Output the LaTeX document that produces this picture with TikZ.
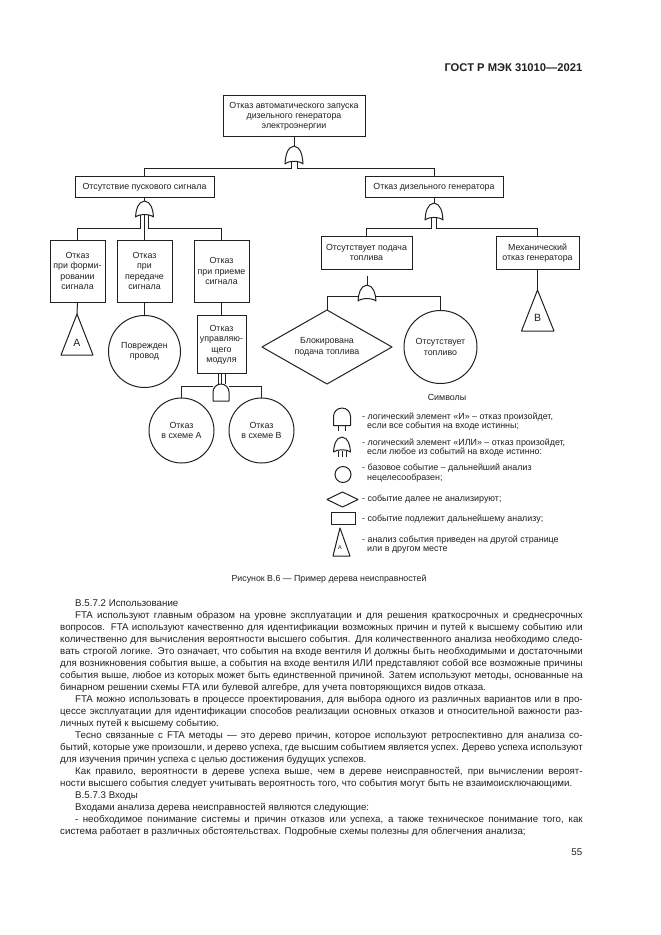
\documentclass[tikz,border=0pt]{standalone}
\usepackage{fontspec}
\setmainfont{Liberation Sans}
\usetikzlibrary{calc}
\definecolor{ink}{gray}{0.13}
\tikzset{
  x=1pt,y=-1pt,
  conn/.style={draw=ink,line width=1pt},
  evbox/.style={draw=ink,line width=1pt,fill=white,align=center,inner sep=0pt,text=ink,font=\boxfont,text depth=0pt},
  evcirc/.style={draw=ink,line width=1pt,fill=white,align=center,inner sep=0pt,circle,text=ink,font=\boxfont},
  gateshape/.style={draw=ink,line width=1pt,fill=white,line join=round},
  lbl/.style={inner sep=0pt,anchor=base west,text=ink,font=\legfont},
  bodyline/.style={inner sep=0pt,anchor=base west,text=ink,font=\bodyfont},
}
\newcommand{\boxfont}{\fontsize{8.84}{10.4}\selectfont}
\newcommand{\legfont}{\fontsize{8.9}{10}\selectfont}
\newcommand{\bodyfont}{\fontsize{9.74}{12}\selectfont}
% OR gate: centre x, top y, half width, bottom y
\newcommand{\orgate}[4]{%
  \draw[gateshape] (#1,#2) .. controls ({#1+0.75*#3},{#2+0.05*(#4-#2)}) and ({#1+0.95*#3},{#2+0.55*(#4-#2)}) .. ({#1+#3},#4)
   .. controls ({#1+0.6*#3},{#4-0.2*(#4-#2)}) and ({#1-0.6*#3},{#4-0.2*(#4-#2)}) .. ({#1-#3},#4)
   .. controls ({#1-0.95*#3},{#2+0.55*(#4-#2)}) and ({#1-0.75*#3},{#2+0.05*(#4-#2)}) .. cycle;}
% AND gate: centre x, top y, half width, bottom y
\newcommand{\andgate}[4]{%
  \draw[gateshape] ({#1-#3},#4) -- ({#1-#3},{#2+#3})
   .. controls ({#1-#3},{#2+0.45*#3}) and ({#1-0.55*#3},#2) .. (#1,#2)
   .. controls ({#1+0.55*#3},#2) and ({#1+#3},{#2+0.45*#3}) .. ({#1+#3},{#2+#3})
   -- ({#1+#3},#4) -- cycle;}
\newcommand{\jl}[3]{\node[bodyline] (#1) at (60,#2) {\spaceskip=0.278em plus 1em minus 0.2em\makebox[522.5pt][s]{#3}};}
\newcommand{\il}[3]{\node[bodyline] (#1) at (75,#2) {\spaceskip=0.278em plus 1em minus 0.2em\makebox[507.5pt][s]{#3}};}
\newcommand{\pl}[4]{\node[bodyline] (#1) at (#2,#3) {#4};}
\begin{document}
\begin{tikzpicture}
\useasboundingbox (0,0) rectangle (661,935);
\fill[white] (0,0) rectangle (661,935);
% header
\node[inner sep=0pt,anchor=base east,text=ink,font=\fontsize{11.2}{12}\selectfont\bfseries] (hdr) at (582.5,71) {ГОСТ Р МЭК 31010—2021};
% event boxes
\node[evbox,minimum width=142pt,minimum height=41pt] (top) at (294,115.5) {Отказ автоматического запуска\\дизельного генератора\\электроэнергии};
\node[evbox,minimum width=139pt,minimum height=21pt] (noSig) at (144.5,186.5) {Отсутствие пускового сигнала};
\node[evbox,minimum width=138pt,minimum height=21pt] (dg) at (434,186.5) {Отказ дизельного генератора};
\node[evbox,minimum width=55pt,minimum height=62pt] (bA) at (77.5,271) {Отказ\\при форми-\\ровании\\сигнала};
\node[evbox,minimum width=55pt,minimum height=62pt] (bB) at (144.5,271) {Отказ\\при\\передаче\\сигнала};
\node[evbox,minimum width=55pt,minimum height=62pt] (bC) at (221.5,271) {Отказ\\при приеме\\сигнала};
\node[evbox,minimum width=49pt,minimum height=58pt] (mod) at (221.5,344) {Отказ\\управляю-\\щего\\модуля};
\node[evbox,minimum width=91pt,minimum height=33pt] (fuel) at (366.5,252.5) {Отсутствует подача\\топлива};
\node[evbox,minimum width=83pt,minimum height=33pt] (mech) at (537.5,252.5) {Механический\\отказ генератора};
% circles and diamond
\node[evcirc,minimum size=72pt] (wire) at (144.5,351.5) {Поврежден\\провод};
\node[evcirc,minimum size=65pt] (cA) at (181.5,430.5) {Отказ\\в схеме А};
\node[evcirc,minimum size=65pt] (cB) at (261.5,430.5) {Отказ\\в схеме В};
\node[evcirc,minimum size=73pt] (noFuel) at (440.5,347) {Отсутствует\\топливо};
\coordinate (dT) at (327,310); \coordinate (dR) at (392,347); \coordinate (dB) at (327,384); \coordinate (dL) at (262,347);
\draw[gateshape] (dT) -- (dR) -- (dB) -- (dL) -- cycle;
\node[inner sep=0pt,align=center,text=ink,font=\boxfont] (dtxt) at (327,347) {Блокирована\\подача топлива};
% triangles
\coordinate (trA) at (77,314); \coordinate (trB) at (537.5,290);
\draw[gateshape] (trA) -- (93,355) -- (61,355) -- cycle;
\draw[gateshape] (trB) -- (554,331) -- (521.5,331) -- cycle;
\node[inner sep=0pt,text=ink,font=\fontsize{10.5}{12}\selectfont] (tA) at (77,343) {А};
\node[inner sep=0pt,text=ink,font=\fontsize{10.5}{12}\selectfont] (tB) at (537.5,318) {В};
% connector junctions
\coordinate (g1top) at (294,146); \coordinate (g1l) at (291,162); \coordinate (g1r) at (297,162);
\coordinate (g1bl) at (291,168); \coordinate (g1br) at (297,168);
\coordinate (g2top) at (144.5,201); \coordinate (g2l) at (140.5,215); \coordinate (g2m) at (144.5,215); \coordinate (g2r) at (148.5,215);
\coordinate (g2bl) at (140.5,228); \coordinate (g2br) at (148.5,228);
\coordinate (g3top) at (434,203); \coordinate (g3l) at (431.5,218); \coordinate (g3r) at (436.5,218);
\coordinate (g3bl) at (431.5,228); \coordinate (g3br) at (436.5,228);
\coordinate (g4top) at (367,285); \coordinate (g4stub) at (367,276);
\coordinate (g4l) at (358,296); \coordinate (g4r) at (376,296);
\coordinate (g5l) at (213,386); \coordinate (g5r) at (229,386);
\coordinate (g5in1) at (218,384); \coordinate (g5in2) at (221.5,384); \coordinate (g5in3) at (225,384);
% connectors
\draw[conn] (top.south) -- (g1top);
\draw[conn] (g1l) -- (g1bl) -| (noSig.north);
\draw[conn] (g1r) -- (g1br) -| (dg.north);
\draw[conn] (noSig.south) -- (g2top);
\draw[conn] (g2l) -- (g2bl) -| (bA.north);
\draw[conn] (g2m) -- (bB.north);
\draw[conn] (g2r) -- (g2br) -| (bC.north);
\draw[conn] (dg.south) -- (g3top);
\draw[conn] (g3l) -- (g3bl) -| (fuel.north);
\draw[conn] (g3r) -- (g3br) -| (mech.north);
\draw[conn] (bA.south) -- (trA);
\draw[conn] (bB.south) -- (wire.north);
\draw[conn] (bC.south) -- (mod.north);
\draw[conn] (mech.south) -- (trB);
\draw[conn] (g4stub) -- (g4top);
\draw[conn] (g4l) -| (dT);
\draw[conn] (g4r) -| (noFuel.north);
\draw[conn] (mod.south -| g5in1) -- (g5in1);
\draw[conn] (mod.south) -- (g5in2);
\draw[conn] (mod.south -| g5in3) -- (g5in3);
\draw[conn] (g5l) -| (cA.north);
\draw[conn] (g5r) -| (cB.north);
% gates
\orgate{294}{146}{9}{164}
\orgate{144.5}{201}{9}{217}
\orgate{434}{203}{9}{220}
\orgate{367}{285}{9}{301}
\andgate{221}{384}{8}{401}
% legend
\node[inner sep=0pt,text=ink,font=\legfont] (symb) at (447,397) {Символы};
\andgate{342}{408}{8.5}{425.5}
\coordinate (la1) at (338,425.5); \coordinate (la1e) at (338,431);
\coordinate (la2) at (345,425.5); \coordinate (la2e) at (345,431);
\draw[conn] (la1) -- (la1e); \draw[conn] (la2) -- (la2e);
\orgate{342}{437}{8.5}{452}
\coordinate (lo1) at (338,451); \coordinate (lo1e) at (338,457);
\coordinate (lo2) at (342,450.5); \coordinate (lo2e) at (342,457);
\coordinate (lo3) at (346,451); \coordinate (lo3e) at (346,457);
\draw[conn] (lo1) -- (lo1e); \draw[conn] (lo2) -- (lo2e); \draw[conn] (lo3) -- (lo3e);
\node[draw=ink,line width=1pt,circle,inner sep=0pt,minimum size=16pt] (lc) at (343,474.5) {};
\draw[gateshape] (327,499.5) -- (342.5,492) -- (358,499.5) -- (342.5,507) -- cycle;
\node[draw=ink,line width=1pt,inner sep=0pt,minimum width=24pt,minimum height=12pt] (lr) at (343,518) {};
\draw[gateshape] (340,528) -- (350,556) -- (333,556) -- cycle;
\node[inner sep=0pt,text=ink,font=\fontsize{5.5}{6}\selectfont] (lA) at (340,548) {А};
\node[lbl] (l1) at (362,419) {- логический элемент «И» – отказ произойдет,};
\node[lbl] (l2) at (367,428.5) {если все события на входе истинны;};
\node[lbl] (l3) at (362,445) {- логический элемент «ИЛИ» – отказ произойдет,};
\node[lbl] (l4) at (367,454.5) {если любое из событий на входе истинно:};
\node[lbl] (l5) at (362,470) {- базовое событие – дальнейший анализ};
\node[lbl] (l6) at (367,480) {нецелесообразен;};
\node[lbl] (l7) at (362,501) {- событие далее не анализируют;};
\node[lbl] (l8) at (362,521) {- событие подлежит дальнейшему анализу;};
\node[lbl] (l9) at (362,542) {- анализ события приведен на другой странице};
\node[lbl] (l10) at (367,551.5) {или в другом месте};
% caption
\node[inner sep=0pt,anchor=base,text=ink,font=\fontsize{8.8}{10}\selectfont] (cap) at (329,581) {Рисунок В.6 — Пример дерева неисправностей};
% body
\pl{t1}{75}{606}{В.5.7.2 Использование}
\il{t2}{618}{FTA используют главным образом на уровне эксплуатации и для решения краткосрочных и среднесрочных}
\jl{t3}{630}{вопросов. FTA используют качественно для идентификации возможных причин и путей к высшему событию или}
\jl{t4}{642}{количественно для вычисления вероятности высшего события. Для количественного анализа необходимо следо-}
\jl{t5}{654}{вать строгой логике. Это означает, что события на входе вентиля И должны быть необходимыми и достаточными}
\jl{t6}{666}{для возникновения события выше, а события на входе вентиля ИЛИ представляют собой все возможные причины}
\jl{t7}{678}{события выше, любое из которых может быть единственной причиной. Затем используют методы, основанные на}
\pl{t8}{60}{690}{бинарном решении схемы FTA или булевой алгебре, для учета повторяющихся видов отказа.}
\il{t9}{702}{FTA можно использовать в процессе проектирования, для выбора одного из различных вариантов или в про-}
\jl{t10}{714}{цессе эксплуатации для идентификации способов реализации основных отказов и относительной важности раз-}
\pl{t11}{60}{726}{личных путей к высшему событию.}
\il{t12}{738}{Тесно связанные с FTA методы — это дерево причин, которое используют ретроспективно для анализа со-}
\jl{t13}{750}{бытий, которые уже произошли, и дерево успеха, где высшим событием является успех. Дерево успеха используют}
\pl{t14}{60}{762}{для изучения причин успеха с целью достижения будущих успехов.}
\il{t15}{774}{Как правило, вероятности в дереве успеха выше, чем в дереве неисправностей, при вычислении вероят-}
\pl{t16}{60}{786}{ности высшего события следует учитывать вероятность того, что события могут быть не взаимоисключающими.}
\pl{t17}{75}{798}{В.5.7.3 Входы}
\pl{t18}{75}{810}{Входами анализа дерева неисправностей являются следующие:}
\il{t19}{822}{- необходимое понимание системы и причин отказов или успеха, а также техническое понимание того, как}
\pl{t20}{60}{834}{система работает в различных обстоятельствах. Подробные схемы полезны для облегчения анализа;}
\node[inner sep=0pt,anchor=base east,text=ink,font=\bodyfont] (pg) at (582.5,855) {55};
\end{tikzpicture}
\end{document}
